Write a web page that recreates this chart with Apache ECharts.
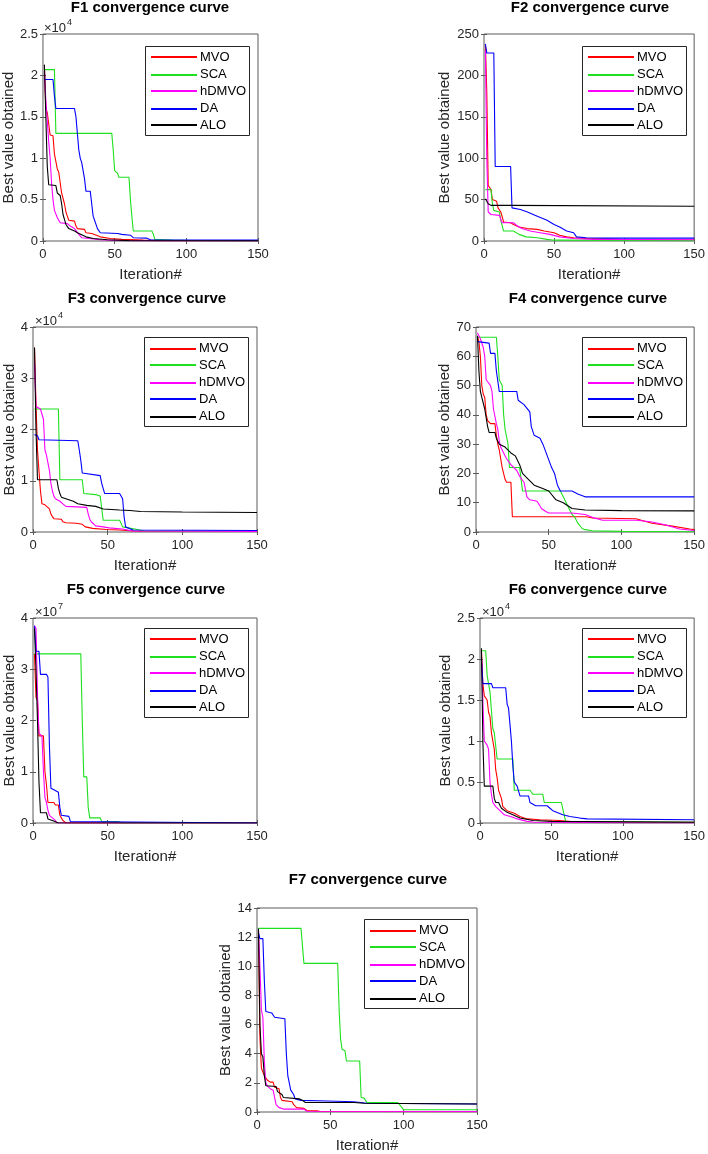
<!DOCTYPE html>
<html>
<head>
<meta charset="utf-8">
<script src="https://cdn.jsdelivr.net/npm/echarts@6/dist/echarts.min.js"></script>
<style>
html,body{margin:0;padding:0;background:#fff;}
#main{width:708px;height:1154px;}
</style>
</head>
<body>
<div id="main"></div>
<script>
// ---------- DATA ----------
const seriesNames = ['MVO', 'SCA', 'hDMVO', 'DA', 'ALO'];
const panelTitles = ['F1 convergence curve', 'F2 convergence curve', 'F3 convergence curve',
  'F4 convergence curve', 'F5 convergence curve', 'F6 convergence curve', 'F7 convergence curve'];
const xAxisName = 'Iteration#';
const yAxisName = 'Best value obtained';
const xTicks = [0, 50, 100, 150];
const yMaxes = [25000, 250, 40000, 70, 40000000, 25000, 14];
const yIntervals = [5000, 50, 10000, 10, 10000000, 5000, 2];
const yScales = [1e4, 1, 1e4, 1, 1e7, 1e4, 1];
const yExponents = ['4', null, '4', null, '7', '4', null];

// F1
const f1MVO = [[1,21000],[2,16000],[3,15500],[5,12800],[7,12700],[8,10500],[10,8700],[11,8300],[12,8200],[13,5800],[15,4500],[16,3500],[17,3000],[18,2500],[22,2400],[23,1800],[24,1500],[29,1400],[30,1000],[34,900],[40,500],[47,300],[55,200],[70,100],[80,50],[150,30]];
const f1SCA = [[1,20700],[8,20700],[9,13000],[48,13000],[49,11000],[50,8500],[52,8200],[53,7700],[60,7700],[61,5000],[62,3000],[63,1200],[76,1200],[77,800],[78,200],[90,100],[110,30],[150,10]];
const f1hDMVO = [[1,20500],[2,17000],[4,12000],[5,10000],[6,7000],[7,5000],[8,3700],[9,3500],[10,2800],[12,2200],[17,2100],[19,1800],[22,1500],[25,800],[27,400],[32,300],[40,150],[55,50],[150,10]];
const f1DA = [[1,19500],[7,19500],[8,17500],[9,16000],[22,16000],[23,15000],[24,13000],[25,11000],[26,10000],[27,9500],[28,8500],[29,7500],[30,6000],[33,6000],[34,4500],[35,3000],[36,2500],[37,2000],[38,1500],[40,1000],[41,900],[52,900],[55,800],[61,700],[63,400],[72,350],[75,150],[150,100]];
const f1ALO = [[1,21300],[2,15000],[3,9000],[4,6800],[9,6700],[10,5800],[12,5500],[13,4500],[14,3200],[16,2000],[18,1500],[22,1200],[24,1000],[30,500],[35,300],[45,150],[60,50],[150,20]];
// F2
const f2MVO = [[1,238],[2,180],[3,67],[5,62],[6,50],[9,48],[10,40],[12,35],[14,23],[19,22],[21,20],[25,17],[31,15],[38,14],[43,12],[50,10],[54,7],[59,5],[64,4],[73,3],[97,2],[120,1.5],[150,1]];
const f2SCA = [[1,62],[5,62],[6,45],[7,37],[11,35],[12,25],[14,12],[21,12],[25,8],[30,5],[38,4],[45,2],[50,1],[150,0.5]];
const f2hDMVO = [[1,230],[2,100],[3,35],[5,32],[11,31],[12,26],[13,22],[21,22],[24,18],[27,15],[33,12],[40,10],[47,8],[54,5],[64,3],[78,2],[150,1.5]];
const f2DA = [[1,238],[2,227],[7,227],[8,90],[19,90],[20,40],[26,38],[31,35],[38,30],[45,25],[50,20],[54,17],[59,12],[64,10],[66,5],[73,4],[87,3.5],[150,3.5]];
const f2ALO = [[1,51],[2,50],[3,45],[5,43],[19,43],[20,42.5],[150,42]];
// F3
const f3MVO = [[1,36000],[2,25000],[3,16000],[4,12000],[5,8000],[6,5500],[8,5300],[9,5000],[11,4500],[12,3500],[13,3000],[14,2600],[19,2500],[20,2000],[22,1800],[29,1700],[33,1500],[35,1000],[40,700],[49,500],[58,400],[67,200],[80,100],[150,100]];
const f3SCA = [[1,24000],[17,24000],[18,10200],[33,10200],[34,7500],[42,7300],[45,7000],[47,2300],[58,2300],[60,1000],[70,500],[74,200],[150,100]];
const f3hDMVO = [[1,33000],[2,24500],[5,24000],[7,22000],[8,16000],[9,15000],[10,13500],[11,12000],[12,9500],[13,8000],[14,7000],[15,6500],[18,6000],[20,5500],[22,5000],[36,4800],[37,3500],[38,2500],[39,2000],[42,1200],[47,1000],[51,800],[60,600],[65,300],[67,200],[150,100]];
const f3DA = [[1,19000],[3,18800],[4,18000],[30,17800],[31,16000],[32,14000],[33,11500],[34,11200],[45,11000],[46,9500],[48,7500],[58,7500],[60,6500],[61,3000],[62,1000],[67,400],[150,300]];
const f3ALO = [[1,36000],[2,20000],[3,10200],[16,10200],[17,8500],[18,7500],[19,6800],[22,6500],[27,6000],[30,5500],[36,5200],[42,5000],[47,4500],[58,4300],[65,4200],[72,4000],[100,3900],[150,3800]];
// F4
const f4MVO = [[1,67],[2,65],[3,60],[4,50],[5,47],[6,46],[7,40],[8,38],[10,37],[13,37],[14,33],[15,30],[16,28],[17,25],[18,22],[20,18],[21,17],[24,17],[25,5.2],[76,5.2],[80,4.8],[110,4.5],[121,3],[135,2],[147,1],[150,0.8]];
const f4SCA = [[1,66.5],[14,66.5],[15,60],[16,52],[18,50],[19,40],[20,35],[22,30],[23,22],[30,22],[32,14],[58,14],[60,12],[63,9],[66,6],[68,5],[70,3],[73,1.2],[75,0.8],[80,0.4],[100,0.2],[150,0.1]];
const f4hDMVO = [[1,68],[3,66],[5,63],[6,60],[7,52],[10,50],[11,48],[12,42],[14,37],[15,35],[16,31],[17,29],[19,27],[21,25],[24,23],[28,21],[30,19],[33,17],[35,12],[37,11],[42,10.5],[45,8],[48,7],[50,6.5],[66,6.5],[75,6],[80,5],[87,4],[110,4],[120,3.5],[130,2.5],[140,1],[150,0.5]];
const f4DA = [[1,65],[9,64.5],[10,61],[13,61],[14,55],[16,48],[28,48],[29,45],[33,43.5],[37,41],[38,36],[40,33],[44,32],[46,30],[49,26],[52,22],[54,20],[56,16],[58,14],[66,14],[70,13],[75,12],[150,12]];
const f4ALO = [[1,67],[2,55],[3,48],[4,46],[6,42],[8,36],[9,34],[13,34],[14,32],[16,30],[20,29],[24,27],[27,26],[30,23],[32,20],[36,18],[40,16],[45,15],[50,14],[55,11],[60,10],[66,8],[75,7.5],[100,7.3],[150,7.2]];
// F5
const f5MVO = [[1,33000000],[2,24500000],[3,24000000],[4,17000000],[7,17000000],[8,10000000],[9,7500000],[10,4000000],[14,4000000],[15,3500000],[17,3500000],[18,1500000],[19,1000000],[20,500000],[22,0],[150,0]];
const f5SCA = [[1,33000000],[32,33000000],[33,20000000],[34,9000000],[36,9000000],[37,3000000],[38,1000000],[45,1000000],[46,300000],[57,300000],[60,0],[150,0]];
const f5hDMVO = [[1,38500000],[2,38000000],[3,25000000],[4,17500000],[6,17000000],[7,10000000],[8,5000000],[9,4000000],[10,2500000],[11,1500000],[13,1000000],[15,500000],[16,0],[150,0]];
const f5DA = [[1,38500000],[2,33500000],[4,33500000],[5,29000000],[9,29000000],[10,28500000],[11,15000000],[12,6800000],[14,6500000],[17,6000000],[18,3000000],[19,1500000],[24,1300000],[25,300000],[26,0],[150,0]];
const f5ALO = [[1,38000000],[2,30000000],[3,20000000],[4,8000000],[5,2000000],[9,2000000],[10,800000],[13,500000],[17,0],[150,0]];
// F6
const f6MVO = [[1,21000],[2,17000],[3,15500],[5,15000],[6,13500],[7,13000],[8,11000],[10,9000],[11,6500],[12,5500],[13,4000],[15,3000],[16,2000],[19,1500],[24,1200],[28,800],[33,500],[42,400],[56,300],[70,100],[150,100]];
const f6SCA = [[1,21000],[4,21000],[5,18000],[6,17000],[7,16000],[9,11500],[10,11000],[12,7800],[23,7800],[24,4000],[35,4000],[37,3500],[44,3500],[45,2500],[57,2500],[60,200],[150,100]];
const f6hDMVO = [[1,20500],[2,15000],[3,10000],[5,9500],[6,9000],[7,5000],[8,3500],[9,2500],[11,2000],[14,1500],[17,1000],[23,700],[26,500],[33,200],[38,100],[150,0]];
const f6DA = [[1,20000],[2,17000],[8,17000],[9,16500],[18,16500],[19,14500],[20,14000],[21,12000],[22,10000],[23,7000],[24,5000],[26,4500],[28,3300],[34,3300],[35,2500],[39,2100],[47,2100],[49,1800],[51,1500],[58,1000],[63,800],[70,600],[75,500],[150,400]];
const f6ALO = [[1,21300],[2,10000],[3,4500],[9,4500],[10,3000],[11,2500],[13,2500],[15,1800],[19,1300],[23,1000],[28,600],[37,300],[50,200],[150,100]];
// F7
const f7MVO = [[1,12.4],[2,5.1],[3,3],[5,2.5],[7,2.2],[9,2.05],[11,2.05],[12,1.7],[15,1.6],[16,1.0],[17,0.8],[24,0.7],[25,0.5],[27,0.3],[32,0.25],[34,0.1],[41,0.08],[43,0.03],[150,0.02]];
const f7SCA = [[1,12.6],[30,12.6],[32,10.2],[55,10.2],[56,7],[57,5],[58,4.3],[60,4.2],[61,3.5],[70,3.5],[71,1.0],[73,0.95],[74,0.8],[75,0.65],[96,0.65],[98,0.4],[100,0.15],[150,0.15]];
const f7hDMVO = [[1,12.5],[2,10],[3,7],[4,6.5],[5,3.5],[6,2],[7,1.8],[9,1.6],[11,1.5],[12,1.0],[13,0.5],[15,0.3],[18,0.2],[32,0.2],[34,0.05],[150,0.03]];
const f7DA = [[1,12.3],[2,11.9],[4,11.9],[5,9],[6,6.9],[10,6.8],[12,6.5],[13,6.4],[19,6.4],[20,4],[21,2.5],[22,2],[23,1.5],[25,1.2],[26,0.9],[30,0.8],[48,0.75],[66,0.7],[75,0.6],[150,0.55]];
const f7ALO = [[1,12.6],[2,6],[3,4],[4,3.8],[5,2.5],[6,1.8],[7,1.75],[13,1.75],[14,1.4],[15,1.3],[17,1.2],[18,1.0],[19,0.9],[29,0.9],[31,0.8],[33,0.65],[66,0.65],[73,0.6],[150,0.55]];

const panelData = [
  [f1MVO, f1SCA, f1hDMVO, f1DA, f1ALO],
  [f2MVO, f2SCA, f2hDMVO, f2DA, f2ALO],
  [f3MVO, f3SCA, f3hDMVO, f3DA, f3ALO],
  [f4MVO, f4SCA, f4hDMVO, f4DA, f4ALO],
  [f5MVO, f5SCA, f5hDMVO, f5DA, f5ALO],
  [f6MVO, f6SCA, f6hDMVO, f6DA, f6ALO],
  [f7MVO, f7SCA, f7hDMVO, f7DA, f7ALO]
];

// ---------- LAYOUT / STYLE ----------
const seriesColors = ['#ff0000', '#1fe01f', '#ff00ff', '#0000ff', '#000000'];
const grids = [
  {left: 42, top: 34, width: 216, height: 207},
  {left: 484, top: 34, width: 212, height: 207},
  {left: 33, top: 327, width: 224, height: 205},
  {left: 476, top: 327, width: 220, height: 205},
  {left: 33, top: 618, width: 224, height: 205},
  {left: 480, top: 618, width: 216, height: 205},
  {left: 257, top: 908, width: 220, height: 206}
];
const yNameGaps = [24, 32, 15, 23, 15, 27, 23];
const legendPos = [[145, 46], [582, 46], [144, 337], [582, 337], [144, 628], [582, 628], [364, 919]];
const legendBox = {width: 104, height: 89, rowStart: 11, rowStep: 17, lineX1: 6, lineX2: 52, textX: 55};
const titlePos = [[150, 8], [590, 8], [147, 299], [588, 299], [146, 590], [588, 590], [368, 880]];
const FONT = '"Liberation Sans", Arial, Helvetica, sans-serif';
const TXT = '#262626';
const AX = '#5a5a5a';

const option = {
  animation: false,
  backgroundColor: '#fff',
  grid: [], xAxis: [], yAxis: [], series: [], graphic: []
};

grids.forEach((g, i) => {
  option.grid.push({left: g.left, top: g.top, width: g.width, height: g.height,
    show: true, borderColor: AX, borderWidth: 1, backgroundColor: '#fff'});
  const tick = {show: true, inside: true, length: 3, lineStyle: {color: AX, width: 1}};
  option.xAxis.push({
    type: 'value', gridIndex: i, position: 'bottom', min: xTicks[0], max: xTicks[xTicks.length - 1], interval: 50,
    axisLine: {show: false}, axisTick: tick, splitLine: {show: false},
    axisLabel: {color: TXT, fontSize: 13, fontFamily: FONT, margin: 7},
    name: xAxisName, nameLocation: 'middle', nameGap: 26,
    nameTextStyle: {color: TXT, fontSize: 15, fontFamily: FONT}
  });
  option.xAxis.push({
    type: 'value', gridIndex: i, position: 'top', min: xTicks[0], max: xTicks[xTicks.length - 1], interval: 50,
    axisLine: {show: false}, axisTick: tick, splitLine: {show: false}, axisLabel: {show: false}
  });
  const sc = yScales[i];
  option.yAxis.push({
    type: 'value', gridIndex: i, position: 'left', min: 0, max: yMaxes[i], interval: yIntervals[i],
    axisLine: {show: false}, axisTick: tick, splitLine: {show: false},
    axisLabel: {color: TXT, fontSize: 13, fontFamily: FONT, margin: 5,
      formatter: v => String(Math.round(v / sc * 1000) / 1000)},
    name: yAxisName, nameLocation: 'middle', nameGap: yNameGaps[i],
    nameTextStyle: {color: TXT, fontSize: 15, fontFamily: FONT}
  });
  option.yAxis.push({
    type: 'value', gridIndex: i, position: 'right', min: 0, max: yMaxes[i], interval: yIntervals[i],
    axisLine: {show: false}, axisTick: tick, splitLine: {show: false}, axisLabel: {show: false}
  });
  panelData[i].forEach((d, k) => {
    option.series.push({
      type: 'line', name: seriesNames[k], xAxisIndex: 2 * i, yAxisIndex: 2 * i,
      data: d, symbol: 'none', showSymbol: false, silent: true,
      lineStyle: {color: seriesColors[k], width: 1.1}, itemStyle: {color: seriesColors[k]}
    });
  });

  // legend box (drawn as graphic elements)
  const L = legendPos[i][0], T = legendPos[i][1];
  option.graphic.push({
    type: 'rect', z: 50, silent: true,
    shape: {x: L + 0.5, y: T + 0.5, width: legendBox.width, height: legendBox.height},
    style: {fill: '#fff', stroke: TXT, lineWidth: 1}
  });
  seriesNames.forEach((n, k) => {
    const rowY = T + legendBox.rowStart + legendBox.rowStep * k;
    const lineY = 2 * Math.floor(rowY / 2) + 1; // 2px sample line on an even pixel pair
    option.graphic.push({
      type: 'line', z: 51, silent: true,
      shape: {x1: L + legendBox.lineX1, y1: lineY, x2: L + legendBox.lineX2, y2: lineY},
      style: {stroke: seriesColors[k], lineWidth: 2}
    });
    option.graphic.push({
      type: 'text', z: 51, silent: true, x: L + legendBox.textX, y: rowY + 0.5,
      style: {text: n, fill: '#000', font: '13px ' + FONT, textAlign: 'left', textVerticalAlign: 'middle'}
    });
  });

  option.graphic.push({
    type: 'text', x: titlePos[i][0], y: titlePos[i][1], z: 10,
    style: {text: panelTitles[i], fill: '#000', font: 'bold 15px ' + FONT,
      textAlign: 'center', textVerticalAlign: 'middle'}
  });
  if (yExponents[i]) {
    const ex = g.left + 2, ey = g.top - 6;
    option.graphic.push({
      type: 'text', x: ex, y: ey, z: 10,
      style: {text: '\u00d710', fill: TXT, font: '13px ' + FONT, textAlign: 'left', textVerticalAlign: 'middle'}
    });
    option.graphic.push({
      type: 'text', x: ex + 23, y: ey - 5, z: 10,
      style: {text: yExponents[i], fill: TXT, font: '9px ' + FONT, textAlign: 'left', textVerticalAlign: 'middle'}
    });
  }
});

const chart = echarts.init(document.getElementById('main'), null, {renderer: 'canvas'});
chart.setOption(option);
</script>
</body>
</html>
